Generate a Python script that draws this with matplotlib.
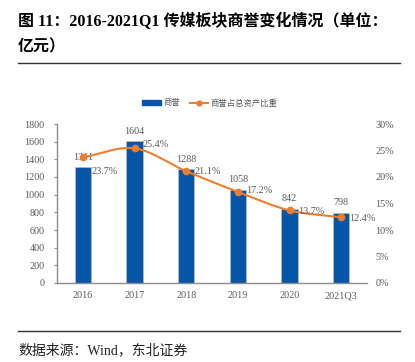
import numpy as np
import matplotlib
matplotlib.use("Agg")
import matplotlib.pyplot as plt
from matplotlib.lines import Line2D
from matplotlib.patches import Patch

plt.rcParams['font.family'] = ['Liberation Serif', 'Noto Sans CJK SC', 'DejaVu Sans']

categories = ['2016', '2017', '2018', '2019', '2020', '2021Q3']
goodwill = [1311, 1604, 1288, 1058, 842, 798]
ratio = [23.7, 25.4, 21.1, 17.2, 13.7, 12.4]
left_ticks = [0, 200, 400, 600, 800, 1000, 1200, 1400, 1600, 1800]
right_ticks = [0, 5, 10, 15, 20, 25, 30]

bar_color = '#0656a8'
line_color = '#ed7d31'
txt_color = '#595959'
spine_color = '#8c8c8c'
# vertical offsets (points) of percent labels relative to their markers
pct_dy = [-10, 3, 0, 1, -1, -1]

fig = plt.figure(figsize=(4.15, 3.62), dpi=100)
W, H = 415, 362
ax = fig.add_axes([57 / W, 1 - 283 / H, (367 - 57) / W, (283 - 124) / H])
ax2 = ax.twinx()

x = np.arange(len(categories))
ax.bar(x, goodwill, width=0.31, color=bar_color, edgecolor='#b8b8b8', linewidth=0.6, zorder=2)
ax.set_xlim(-0.5, len(categories) - 0.5)
ax.set_ylim(0, 1800)
ax.set_yticks(left_ticks)
ax.set_yticklabels([str(t) for t in left_ticks])
ax.set_xticks(x)
ax.set_xticklabels(categories)
ax.tick_params(axis='y', labelsize=7.3, colors=txt_color, length=2, width=0.8, pad=7)
ax.tick_params(axis='y', color=spine_color)
ax.tick_params(axis='x', labelsize=7.3, colors=txt_color, length=0, pad=6)
for s in ['top', 'right']:
    ax.spines[s].set_visible(False)
for s in ['left', 'bottom']:
    ax.spines[s].set_color(spine_color)
    ax.spines[s].set_linewidth(1.0)

# smooth curve (Catmull-Rom rendering through the data points)
def smooth(xs, ys, n=30):
    xs = np.asarray(xs, float); ys = np.asarray(ys, float)
    px = np.concatenate([[2 * xs[0] - xs[1]], xs, [2 * xs[-1] - xs[-2]]])
    py = np.concatenate([[2 * ys[0] - ys[1]], ys, [2 * ys[-1] - ys[-2]]])
    ox, oy = [], []
    for i in range(1, len(px) - 2):
        t = np.linspace(0, 1, n, endpoint=False)
        for P, out in ((px, ox), (py, oy)):
            p0, p1, p2, p3 = P[i - 1], P[i], P[i + 1], P[i + 2]
            out.extend(0.5 * ((2 * p1) + (-p0 + p2) * t + (2 * p0 - 5 * p1 + 4 * p2 - p3) * t ** 2
                              + (-p0 + 3 * p1 - 3 * p2 + p3) * t ** 3))
    ox.append(xs[-1]); oy.append(ys[-1])
    return np.array(ox), np.array(oy)

sx, sy = smooth(x, ratio)
ax2.plot(sx, sy, color=line_color, lw=1.5, zorder=3)
ax2.plot(x, ratio, 'o', color=line_color, ms=4.5, zorder=4)
ax2.set_ylim(0, 30)
ax2.set_yticks(right_ticks)
ax2.set_yticklabels([f'{t}%' for t in right_ticks])
ax2.tick_params(axis='y', labelsize=7.3, colors=txt_color, length=0, pad=6)
for s in ax2.spines.values():
    s.set_visible(False)

for xi, v in zip(x, goodwill):
    ax.annotate(str(v), (xi, v), xytext=(0, 4), textcoords='offset points',
                ha='center', va='bottom', fontsize=7.3, color=txt_color, zorder=5)
for xi, r, dy in zip(x, ratio, pct_dy):
    ax2.annotate(f'{r}%', (xi, r), xytext=(6, dy), textcoords='offset points',
                 ha='left', va='center', fontsize=7.3, color=txt_color, zorder=5)

handles = [Patch(facecolor=bar_color, edgecolor=bar_color),
           Line2D([0], [0], color=line_color, lw=1.5, marker='o', ms=3.5)]
fig.legend(handles, ['商誉', '商誉占总资产比重'], loc='center', bbox_to_anchor=(210 / W, 1 - 103 / H),
           ncol=2, frameon=False, prop={'family': ['Noto Sans CJK SC'], 'size': 6},
           labelcolor=txt_color, handlelength=2.2, handleheight=0.6, columnspacing=1.2, handletextpad=0.3)

fig.text(18 / W, 1 - 21 / H, '图 11：2016-2021Q1 传媒板块商誉变化情况（单位：',
         fontsize=11.5, fontweight='bold', ha='left', va='center',
         family=['Liberation Serif', 'Noto Sans CJK SC'])
fig.text(18 / W, 1 - 46 / H, '亿元）', fontsize=11.5, fontweight='bold', ha='left', va='center',
         family=['Noto Sans CJK SC'])
fig.add_artist(Line2D([18 / W, 400 / W], [1 - 63 / H, 1 - 63 / H], color='#333333', lw=1.0))
fig.add_artist(Line2D([18 / W, 400 / W], [1 - 331 / H, 1 - 331 / H], color='#333333', lw=1.0))
fig.text(18 / W, 1 - 350 / H, '数据来源：Wind，东北证券', fontsize=10, ha='left', va='center',
         family=['Liberation Serif', 'Noto Sans CJK SC'], color='#222222')

fig.savefig('out.png', dpi=100)
